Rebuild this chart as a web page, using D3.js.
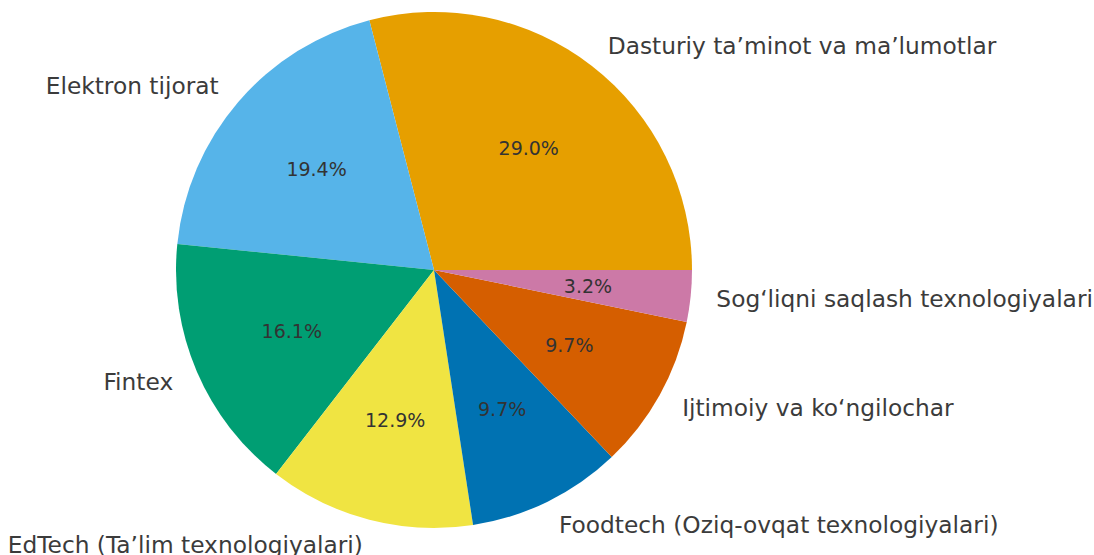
<!DOCTYPE html>
<html>
<head>
<meta charset="utf-8">
<script src="https://cdn.jsdelivr.net/npm/d3@7"></script>
<style>
  body { margin: 0; background: #fff; }
  svg text { font-family: "DejaVu Sans", sans-serif; }
</style>
</head>
<body>
<div id="chart"></div>
<script>
// slice data (counts out of 31)
const categories = [
  "Dasturiy ta\u2019minot va ma\u2019lumotlar",
  "Elektron tijorat",
  "Fintex",
  "EdTech (Ta\u2019lim texnologiyalari)",
  "Foodtech (Oziq-ovqat texnologiyalari)",
  "Ijtimoiy va ko\u2018ngilochar",
  "Sog\u2018liqni saqlash texnologiyalari"
];
const values = [9, 6, 5, 4, 3, 3, 1];
const colors = ["#E69F00", "#56B4E9", "#009E73", "#F0E442", "#0072B2", "#D55E00", "#CC79A7"];

const width = 1094, height = 555;
const cx = 434, cy = 270, radius = 258;

const svg = d3.select("#chart")
  .append("svg")
  .attr("width", width)
  .attr("height", height);

const g = svg.append("g")
  .attr("transform", `translate(${cx}, ${cy})`);

// matplotlib style: start at 3 o'clock, go counterclockwise
const pie = d3.pie()
  .sort(null)
  .value(d => d)
  .startAngle(Math.PI / 2)
  .endAngle(Math.PI / 2 - 2 * Math.PI);

const arcs = pie(values);
const total = d3.sum(values);

const arc = d3.arc().innerRadius(0).outerRadius(radius);

g.selectAll("path.slice")
  .data(arcs)
  .enter()
  .append("path")
  .attr("class", "slice")
  .attr("d", arc)
  .attr("fill", (d, i) => colors[i]);

// outside labels at 1.1 r
g.selectAll("text.label")
  .data(arcs)
  .enter()
  .append("text")
  .attr("class", "label")
  .each(function (d, i) {
    const a = (d.startAngle + d.endAngle) / 2;
    const x = Math.sin(a) * radius * 1.1;
    const y = -Math.cos(a) * radius * 1.1;
    d3.select(this)
      .attr("x", x)
      .attr("y", y)
      .attr("text-anchor", x > 0 ? "start" : "end")
      .attr("dominant-baseline", "central")
      .style("font-size", "23.3px")
      .style("fill", "#3b3b3b")
      .text(categories[i]);
  });

// percentage labels at 0.6 r
g.selectAll("text.pct")
  .data(arcs)
  .enter()
  .append("text")
  .attr("class", "pct")
  .each(function (d) {
    const a = (d.startAngle + d.endAngle) / 2;
    d3.select(this)
      .attr("x", Math.sin(a) * radius * 0.6)
      .attr("y", -Math.cos(a) * radius * 0.6)
      .attr("text-anchor", "middle")
      .attr("dominant-baseline", "central")
      .style("font-size", "19px")
      .style("fill", "#333333")
      .text((d.value / total * 100).toFixed(1) + "%");
  });
</script>
</body>
</html>
